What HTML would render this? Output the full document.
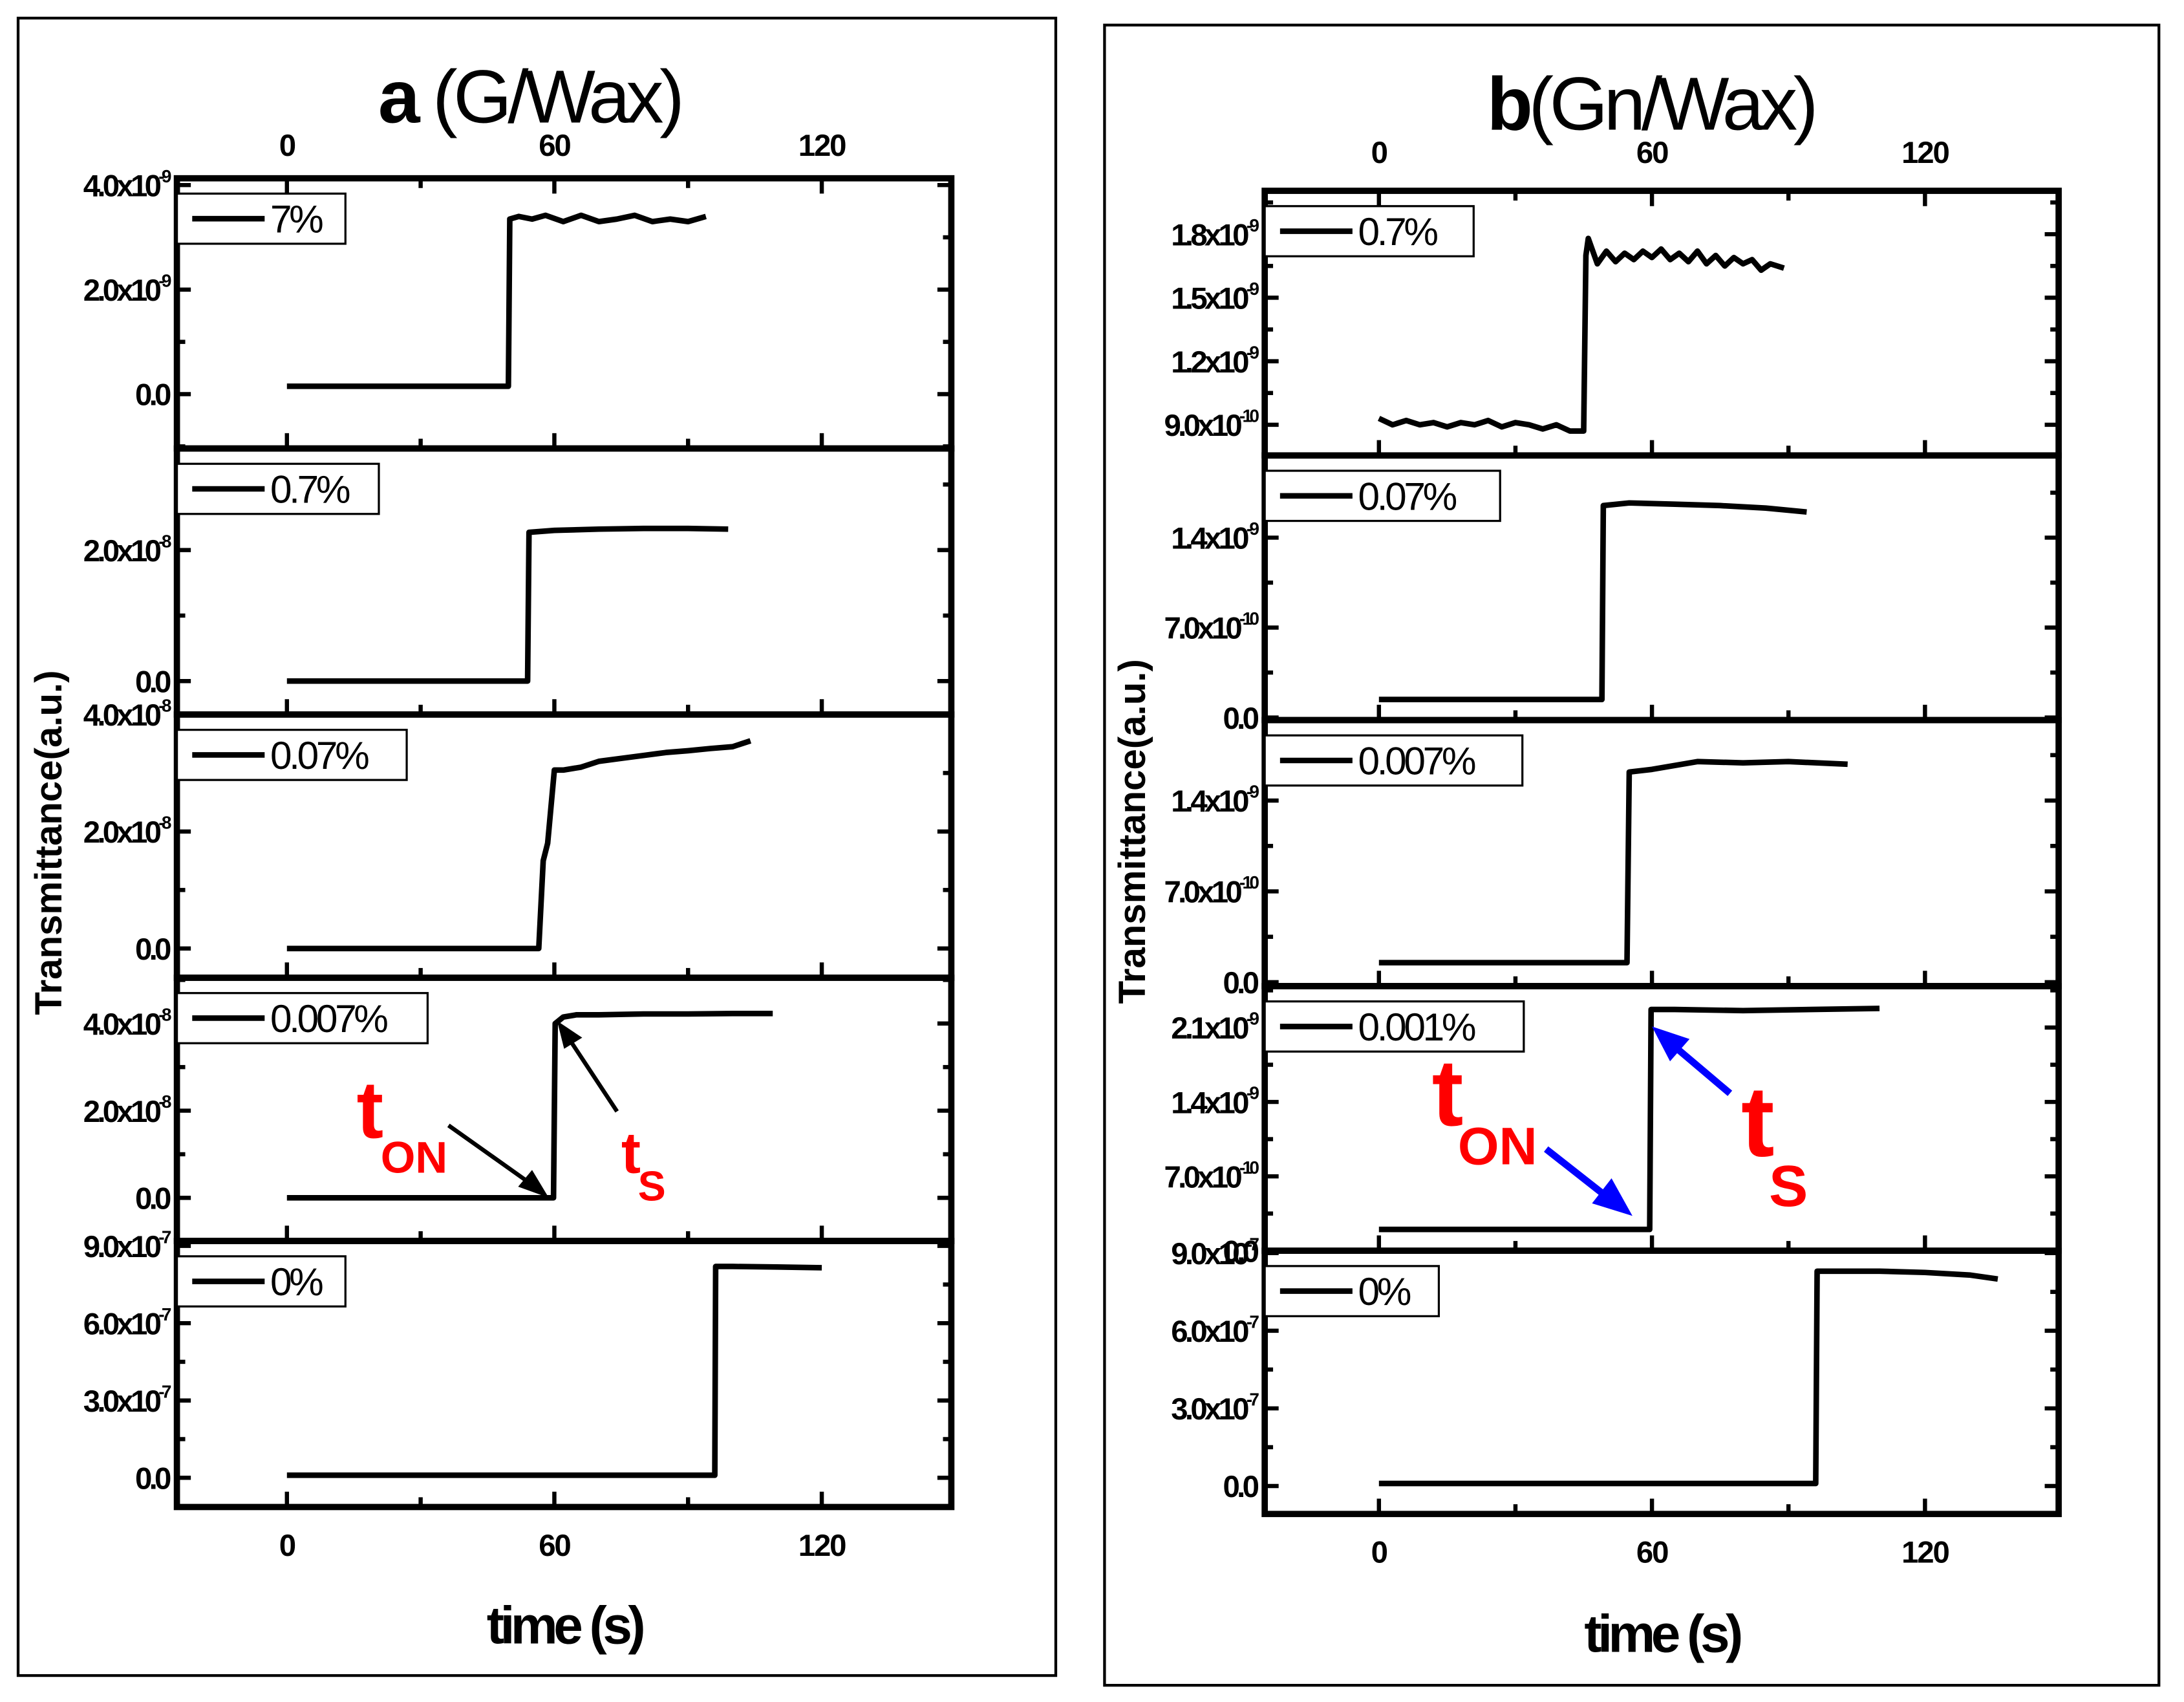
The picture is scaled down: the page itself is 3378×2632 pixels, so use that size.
<!DOCTYPE html>
<html><head><meta charset="utf-8">
<style>
html,body{margin:0;padding:0;background:#fff;}
svg{display:block;}
text{font-family:"Liberation Sans",Arial,sans-serif;}
</style></head>
<body>
<svg id="fig" width="3378" height="2632" viewBox="0 0 1568 1222" preserveAspectRatio="none" xmlns="http://www.w3.org/2000/svg">
<rect x="0" y="0" width="1568" height="1222" fill="#fff"/>
<rect x="13" y="13" width="745" height="1190" fill="none" stroke="#000" stroke-width="2"/>
<rect x="793" y="18" width="757" height="1192" fill="none" stroke="#000" stroke-width="2"/>
<text x="380" y="88" font-size="54" text-anchor="middle" letter-spacing="-3"><tspan font-weight="bold">a</tspan> (G/Wax)</text>
<text x="1185" y="93" font-size="54" text-anchor="middle" letter-spacing="-3"><tspan font-weight="bold">b</tspan>(Gn/Wax)</text>
<text x="405" y="1180" font-size="38" font-weight="bold" text-anchor="middle" letter-spacing="-3">time (s)</text>
<text x="1193" y="1186" font-size="38" font-weight="bold" text-anchor="middle" letter-spacing="-3">time (s)</text>
<text transform="translate(44,605) rotate(-90)" font-size="27" font-weight="bold" text-anchor="middle">Transmittance(a.u.)</text>
<text transform="translate(822,597) rotate(-90)" font-size="27" font-weight="bold" text-anchor="middle">Transmittance(a.u.)</text>
<g id="plots"></g>
<g>
<text x="256" y="817" font-size="58" font-weight="bold" fill="#f00">t<tspan font-size="32" dx="-2" dy="25">ON</tspan></text>
<line x1="322" y1="808" x2="384" y2="852" stroke="#000" stroke-width="3"/>
<polygon points="394,860 372,852 382,840" fill="#000"/>
<text x="446" y="842" font-size="42" font-weight="bold" fill="#f00">t<tspan font-size="30" dx="-2" dy="20">S</tspan></text>
<line x1="443" y1="798" x2="408" y2="745" stroke="#000" stroke-width="3"/>
<polygon points="400,733 418,745 405,753" fill="#000"/>
<text x="1028" y="808" font-size="68" font-weight="bold" fill="#f00">t<tspan font-size="38" dx="-4" dy="28">ON</tspan></text>
<line x1="1110" y1="825" x2="1152" y2="858" stroke="#00f" stroke-width="5"/>
<polygon points="1172,873 1143,864 1157,846" fill="#00f"/>
<text x="1250" y="830" font-size="72" font-weight="bold" fill="#f00">t<tspan font-size="42" dx="-4" dy="36">S</tspan></text>
<line x1="1242" y1="785" x2="1203" y2="752" stroke="#00f" stroke-width="5"/>
<polygon points="1186,737 1213,746 1199,762" fill="#00f"/>
</g>
</svg>
<script>
// ---- data (time in s, values in panel units) ----
const a1T=[0,49.7,50,52,55,58,62,66,70,74,78,82,86,90,94];
const a1V=[0.15,0.15,3.35,3.4,3.35,3.42,3.3,3.42,3.3,3.35,3.42,3.3,3.35,3.3,3.4];
const a2T=[0,54,54.3,60,70,80,90,99];
const a2V=[0,0,2.27,2.3,2.32,2.33,2.33,2.32];
const a3T=[0,56.5,57.5,58.5,60,62,66,70,75,80,85,90,95,100,104];
const a3V=[0,0,1.5,1.8,3.05,3.05,3.1,3.2,3.25,3.3,3.35,3.38,3.42,3.45,3.55];
const a4T=[0,59.8,60.2,62,65,70,80,90,100,109];
const a4V=[0,0,4.0,4.15,4.2,4.2,4.22,4.22,4.23,4.23];
const a5T=[0,96,96.2,100,110,120];
const a5V=[0.1,0.1,8.2,8.2,8.18,8.15];
const b1T=[0,3,6,9,12,15,18,21,24,27,30,33,36,39,42,45,45.5,46,48,50,52,54,56,58,60,62,64,66,68,70,72,74,76,78,80,82,84,86,89];
const b1V=[0.93,0.9,0.92,0.9,0.91,0.89,0.91,0.9,0.92,0.89,0.91,0.9,0.88,0.9,0.87,0.87,1.7,1.78,1.66,1.72,1.67,1.71,1.68,1.72,1.69,1.73,1.68,1.71,1.67,1.72,1.66,1.7,1.65,1.69,1.66,1.68,1.63,1.66,1.64];
const b2T=[0,49,49.3,55,65,75,85,94];
const b2V=[0.14,0.14,1.65,1.67,1.66,1.65,1.63,1.6];
const b3T=[0,54.5,55,60,70,80,90,103];
const b3V=[0.15,0.15,1.62,1.64,1.7,1.69,1.7,1.68];
const b4T=[0,59.5,59.8,65,80,95,110];
const b4V=[0.2,0.2,2.27,2.27,2.26,2.27,2.28];
const b5T=[0,96,96.3,110,120,130,136];
const b5V=[0.1,0.1,8.3,8.3,8.25,8.15,8.0];
const legendLabels=["7%","0.7%","0.07%","0.007%","0%","0.7%","0.07%","0.007%","0.001%","0%"];
const a1Ticks=[0,2,4], a1Labels=["0.0","2.0x10|-9","4.0x10|-9"];
const a2Ticks=[0,2], a2Labels=["0.0","2.0x10|-8"];
const a3Ticks=[0,2,4], a3Labels=["0.0","2.0x10|-8","4.0x10|-8"];
const a4Ticks=[0,2,4], a4Labels=["0.0","2.0x10|-8","4.0x10|-8"];
const a5Ticks=[0,3,6,9], a5Labels=["0.0","3.0x10|-7","6.0x10|-7","9.0x10|-7"];
const b1Ticks=[0.9,1.2,1.5,1.8], b1Labels=["9.0x10|-10","1.2x10|-9","1.5x10|-9","1.8x10|-9"];
const b2Ticks=[0,0.7,1.4], b2Labels=["0.0","7.0x10|-10","1.4x10|-9"];
const b3Ticks=[0,0.7,1.4], b3Labels=["0.0","7.0x10|-10","1.4x10|-9"];
const b4Ticks=[0,0.7,1.4,2.1], b4Labels=["0.0","7.0x10|-10","1.4x10|-9","2.1x10|-9"];
const b5Ticks=[0,3,6,9], b5Labels=["0.0","3.0x10|-7","6.0x10|-7","9.0x10|-7"];
const xTicks=[0,30,60,90,120], xLabels=["0","","60","","120"];

// ---- layout ----
const NS="http://www.w3.org/2000/svg";
const g=document.getElementById('plots');
function mk(tag,attrs,parent){const e=document.createElementNS(NS,tag);for(const k in attrs)e.setAttribute(k,attrs[k]);(parent||g).appendChild(e);return e;}
const cols=[
 {L:127,R:683,x0:206,pps:3.2,tops:[128,322,513,702,891],bot:1082,lw:[121,145,165,180,121],topLab:112,botLab:1117,id:'a'},
 {L:908,R:1478,x0:990,pps:3.267,tops:[137,327,517,708,898],bot:1087,lw:[150,169,185,186,125],topLab:117,botLab:1122,id:'b'}
];
const series=[[a1T,a1V],[a2T,a2V],[a3T,a3V],[a4T,a4V],[a5T,a5V],[b1T,b1V],[b2T,b2V],[b3T,b3V],[b4T,b4V],[b5T,b5V]];
const ticks=[a1Ticks,a2Ticks,a3Ticks,a4Ticks,a5Ticks,b1Ticks,b2Ticks,b3Ticks,b4Ticks,b5Ticks];
const labels=[a1Labels,a2Labels,a3Labels,a4Labels,a5Labels,b1Labels,b2Labels,b3Labels,b4Labels,b5Labels];
const ranges=[[-1.04,4.13],[-0.51,3.55],[-0.5,4.0],[-0.99,5.05],[-1.135,9.19],[0.755,2.005],[-0.02,2.04],[-0.03,2.02],[0,2.49],[-1.08,9.09]];

cols.forEach((c,ci)=>{
  const xs=t=>c.x0+t*c.pps;
  for(let p=0;p<5;p++){
    const k=ci*5+p;
    const top=c.tops[p], bot=(p<4?c.tops[p+1]:c.bot);
    const [ymin,ymax]=ranges[k];
    const ys=v=>bot-(v-ymin)/(ymax-ymin)*(bot-top);
    const pg=mk('g',{});
    
    
    const fr=mk('rect',{x:c.L,y:top,width:c.R-c.L,height:bot-top,fill:'none',stroke:'#000','stroke-width':4.5},pg);
    
    
    xTicks.forEach((t,i)=>{
      const len=xLabels[i]?11:7;
      const tk=mk('line',{x1:xs(t),x2:xs(t),y1:bot,y2:bot-len,stroke:'#000','stroke-width':3},pg);
      
      
      if(p===0){
        const tt=mk('line',{x1:xs(t),x2:xs(t),y1:top,y2:top+len,stroke:'#000','stroke-width':3},pg);
        
        
        if(xLabels[i]){
          const tl=mk('text',{x:xs(t),y:c.topLab,'font-size':22,'font-weight':'bold','text-anchor':'middle','letter-spacing':-1});
          tl.textContent=xLabels[i];
          
          
        }
      }
      if(p===4 && xLabels[i]){
        const bl=mk('text',{x:xs(t),y:c.botLab,'font-size':22,'font-weight':'bold','text-anchor':'middle','letter-spacing':-1});
        bl.textContent=xLabels[i];
        
        
      }
    });
    const tv=ticks[k];
    const step=tv.length>1?tv[1]-tv[0]:1;
    const minors=[];
    for(let i=0;i<tv.length;i++){minors.push(tv[i]+step/2);}
    minors.push(tv[0]-step/2);
    minors.forEach(v=>{
      if(v<=ymin||v>=ymax) return;
      const y=ys(v);
      [[c.L,c.L+6],[c.R,c.R-6]].forEach(([a,b])=>{
        const m=mk('line',{x1:a,x2:b,y1:y,y2:y,stroke:'#000','stroke-width':3},pg);
        
        
      });
    });
    tv.forEach((v,i)=>{
      const y=ys(v);
      [[c.L,c.L+10],[c.R,c.R-10]].forEach(([a,b])=>{
        const m=mk('line',{x1:a,x2:b,y1:y,y2:y,stroke:'#000','stroke-width':3},pg);
        
        
      });
      const parts=labels[k][i].split('|');
      const tx=mk('text',{x:c.L-6,y:y+8,'font-size':22,'font-weight':'bold','text-anchor':'end','letter-spacing':-2.2},pg);
      
      
      if(parts.length===1){tx.textContent=parts[0];}
      else{
        tx.appendChild(document.createTextNode(parts[0]));
        const sp=document.createElementNS(NS,'tspan');
        sp.setAttribute('font-size','13');sp.setAttribute('dy','-10');
        sp.textContent=parts[1];tx.appendChild(sp);
      }
    });
    const [T,V]=series[k];
    let d='';
    T.forEach((t,i)=>{d+=(i?'L':'M')+xs(t).toFixed(1)+','+ys(V[i]).toFixed(1);});
    const ln=mk('path',{d:d,fill:'none',stroke:'#000','stroke-width':4,'stroke-linejoin':'round'},pg);
    
    
    const lg=mk('g',{},pg);
    
    
    mk('rect',{x:c.L,y:top+11,width:c.lw[p],height:36,fill:'#fff',stroke:'#000','stroke-width':1.5},lg);
    mk('line',{x1:c.L+11,x2:c.L+63,y1:top+29,y2:top+29,stroke:'#000','stroke-width':4},lg);
    const lt=mk('text',{x:c.L+67,y:top+39,'font-size':28,'letter-spacing':-2},lg);
    lt.textContent=legendLabels[k];
    
    
  }
});
</script>
</body></html>
